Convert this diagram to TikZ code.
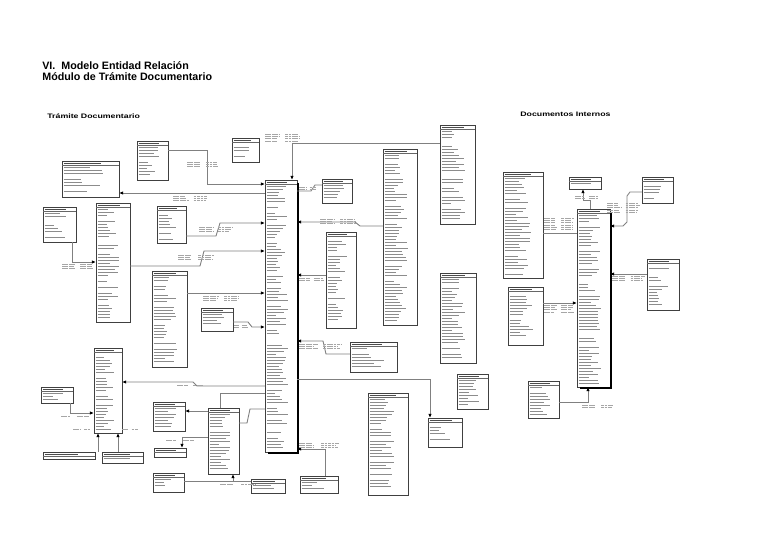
\documentclass[tikz,border=0pt]{standalone}
\usepackage{fontspec}
\usepackage{graphicx}
\setmainfont{Liberation Sans}
\usetikzlibrary{arrows.meta}
\tikzset{
 ebox/.style={draw=black!75, line width=0.45pt, inner sep=0pt, outer sep=0pt, fill=white},
 fld/.style={draw=black!45, line width=0.55pt},
 hdr/.style={draw=black!70, line width=0.6pt},
 conn/.style={draw=black!50, line width=0.5pt},
 tipE/.style={-{Latex[length=2.4pt,width=2pt,black]}},
 tipS/.style={{Latex[length=2.4pt,width=2pt,black]}-},
 cl/.style={draw=black!35, line width=0.4pt, dash pattern=on 1.6pt off 0.35pt},
 ttl/.style={anchor=base west, inner sep=0pt, font=\bfseries\fontsize{6.1}{7}\selectfont},
 sttl/.style={anchor=base west, inner sep=0pt, font=\bfseries\fontsize{3.7}{4}\selectfont}
}
\newcommand\erb[6]{%
  \node[ebox, anchor=north west, minimum width={(#4-#2)*0.02cm}, minimum height={(#5-#3)*0.02cm}] (#1) at (#2,#3) {};
  \draw[hdr] ({#2+1.5},{#3+2.2}) -- ++({0.65*(#4-#2)},0);
  \draw[draw=black!60,line width=0.4pt] (#2,{#3+4}) -- (#4,{#3+4});
  \pgfmathtruncatemacro\nrows{(#5-#3-7)/3}%
  \ifnum\nrows>0
  \foreach \rr in {1,...,\nrows}{%
    \pgfmathtruncatemacro\keep{rnd<0.85?1:0}%
    \ifnum\keep=1
    \pgfmathsetmacro\len{(0.3+0.45*rnd)*(#4-#2-3)}%
    \draw[fld] ({#2+1.5},{#3+3+3*\rr}) -- ++(\len,0);
    \fi
  }%
  \fi
  \ifnum#6=1 \draw[line width=1.2pt, black] ({#4+0.6},{#3+3}) -- ({#4+0.6},{#5+0.6}) -- ({#2+3},{#5+0.6});\fi
}
\newcommand\crd[4]{%
  \foreach \rr in {1,...,#4}{%
    \pgfmathsetmacro\la{(0.3+0.12*rnd)*#3}%
    \pgfmathsetmacro\lb{(0.3+0.12*rnd)*#3}%
    \draw[cl] (#1,{#2+2.3*(\rr-1)}) -- ++(\la,0);
    \draw[cl] ({#1+0.53*#3},{#2+2.3*(\rr-1)}) -- ++(\lb,0);
  }%
}
\begin{document}
\begin{tikzpicture}[x=0.02cm,y=-0.02cm]
\fill[white] (0,0) rectangle (768,543);
\useasboundingbox (0,0) rectangle (768,543);
\pgfmathsetseed{12}

\node[ttl] (t1) at (42,70) {VI.\ \ Modelo Entidad Relación};
\node[ttl] (t2) at (42,81) {Módulo de Trámite Documentario};
\node[sttl] (t3) at (47,119) {\scalebox{1.35}[1]{Trámite Documentario}};
\node[sttl] (t4) at (520,117) {\scalebox{1.35}[1]{Documentos Internos}};

% entity boxes
\erb{A}{62}{161}{119}{197}{0}
\erb{B}{137}{141}{168}{180}{0}
\erb{C}{232}{138}{259}{162}{0}
\erb{D}{43}{207}{76}{242}{0}
\erb{E}{96}{203}{130}{322}{0}
\erb{F}{157}{206}{186}{243}{0}
\erb{G}{152}{271}{187}{367}{0}
\erb{H}{201}{308}{233}{331}{0}
\erb{Z}{94}{348}{122}{433}{0}
\erb{AA}{41}{387}{73}{403}{0}
\erb{BB}{43}{452}{95}{459}{0}
\erb{CC}{102}{452}{143}{463}{0}
\erb{DD}{153}{402}{185}{431}{0}
\erb{EE}{154}{448}{186}{457}{0}
\erb{FF}{153}{473}{184}{492}{0}
\erb{Y}{208}{408}{239}{474}{0}
\erb{X}{251}{479}{285}{493}{0}
\erb{M}{265}{180}{297}{452}{1}
\erb{N}{322}{179}{352}{203}{0}
\erb{O}{383}{149}{417}{325}{0}
\erb{I}{440}{125}{475}{224}{0}
\erb{P}{326}{232}{356}{328}{0}
\erb{Q}{440}{273}{476}{363}{0}
\erb{R}{350}{342}{397}{372}{0}
\erb{S}{428}{418}{462}{447}{0}
\erb{U}{368}{393}{408}{495}{0}
\erb{V}{457}{374}{488}{409}{0}
\erb{W}{300}{476}{338}{493}{0}
\erb{GG}{503}{172}{543}{278}{0}
\erb{HH}{569}{177}{601}{189}{0}
\erb{II}{642}{177}{673}{203}{0}
\erb{JJ}{577}{209}{610}{387}{1}
\erb{KK}{647}{259}{679}{310}{0}
\erb{LL}{508}{287}{543}{345}{0}
\erb{MM}{528}{381}{559}{418}{0}

% connectors
\draw[conn,tipE] (B.east |- 0,150) -- (207,150) -- (207,184) -- (M.west |- 0,184);
\draw[conn,tipS] (A.east |- 0,193) -- (M.west |- 0,193);
\draw[conn,tipE] (72,0 |- D.south) -- (72,262) -- (E.west |- 0,262);
\draw[conn,tipE] (E.east |- 0,266) -- (200,266) -- (204,251) -- (M.west |- 0,251);
\draw[conn,tipE] (F.east |- 0,236) -- (216,236) -- (220,223) -- (M.west |- 0,223);
\draw[conn,tipE] (G.east |- 0,293) -- (M.west |- 0,293);
\draw[conn,tipE] (H.east |- 0,322) -- (248,322) -- (252,327) -- (M.west |- 0,327);
\draw[conn,tipS] (292,0 |- M.north) -- (292,143) -- (I.west |- 0,143);
\draw[conn] (M.east |- 0,191) -- (311,191) -- (315,185) -- (N.west |- 0,185);
\draw[conn,tipS] (M.east |- 0,222) -- (355,222) -- (360,226) -- (O.west |- 0,226);
\draw[conn,tipS] (M.east |- 0,275) -- (P.west |- 0,275);
\draw[conn,tipS] (M.east |- 0,341) -- (323,341) -- (326,354) -- (R.west |- 0,354);
\draw[conn,tipE] (M.east |- 0,379) -- (430,379) -- (430,0 |- S.north);
\draw[conn,tipS] (M.east |- 0,449) -- (325,449) -- (325,0 |- W.north);
\draw[conn,tipS] (Z.east |- 0,382) -- (193,382) -- (197,386) -- (M.west |- 0,386);
\draw[conn] (Y.east |- 0,423) -- (247,423) -- (250,409) -- (M.west |- 0,409);
\draw[conn] (220,0 |- Y.north) -- (220,393) -- (M.west |- 0,393);
\draw[conn,tipE] (70,0 |- AA.south) -- (70,413) -- (Z.west |- 0,413);
\draw[conn,tipS] (98,0 |- Z.south) -- (98,0 |- BB.north);
\draw[conn,tipS] (118,0 |- Z.south) -- (118,0 |- CC.north);
\draw[conn,tipS] (DD.east |- 0,411) -- (Y.west |- 0,411);
\draw[conn,tipS] (182,0 |- EE.north) -- (182,437) -- (Y.west |- 0,437);
\coordinate (j1) at (233,481);
\draw[conn,tipE] (FF.east |- j1) -- (j1) -- (j1 |- Y.south);
\draw[conn] (j1) -- (X.west |- j1);
\draw[conn,tipE] (590,0 |- JJ.north) -- (590,200) -- (583,200) -- (583,0 |- HH.south);
\draw[conn,tipE] (II.west |- 0,192) -- (630,192) -- (627,196) -- (627,222) -- (623,226) -- (JJ.east |- 0,226);
\draw[conn] (GG.east |- 0,233) -- (JJ.west |- 0,233);
\draw[conn,tipS] (JJ.east |- 0,274) -- (KK.west |- 0,274);
\draw[conn,tipE] (LL.east |- 0,303) -- (JJ.west |- 0,303);
\draw[conn,tipE] (MM.east |- 0,402) -- (588,402) -- (588,0 |- JJ.south);

% relationship labels (illegible, shown as lines)
\crd{187}{162}{36}{3}
\crd{173}{196}{39}{3}
\crd{199}{227}{36}{3}
\crd{178}{255}{38}{3}
\crd{62}{264}{34}{3}
\crd{203}{296}{40}{3}
\crd{265}{134}{38}{4}
\crd{320}{219}{38}{3}
\crd{299}{278}{28}{2}
\crd{299}{344}{46}{3}
\crd{299}{443}{42}{3}
\crd{234}{325}{15}{2}
\crd{177}{385}{31}{1}
\crd{61}{416}{30}{1}
\crd{73}{429}{21}{1}
\crd{122}{429}{18}{1}
\crd{166}{440}{32}{1}
\crd{220}{484}{40}{1}
\crd{299}{187}{20}{2}
\crd{575}{196}{26}{2}
\crd{607}{203}{35}{5}
\crd{544}{218}{33}{6}
\crd{612}{276}{35}{3}
\crd{544}{305}{32}{4}
\crd{582}{405}{36}{2}
\end{tikzpicture}
\end{document}
